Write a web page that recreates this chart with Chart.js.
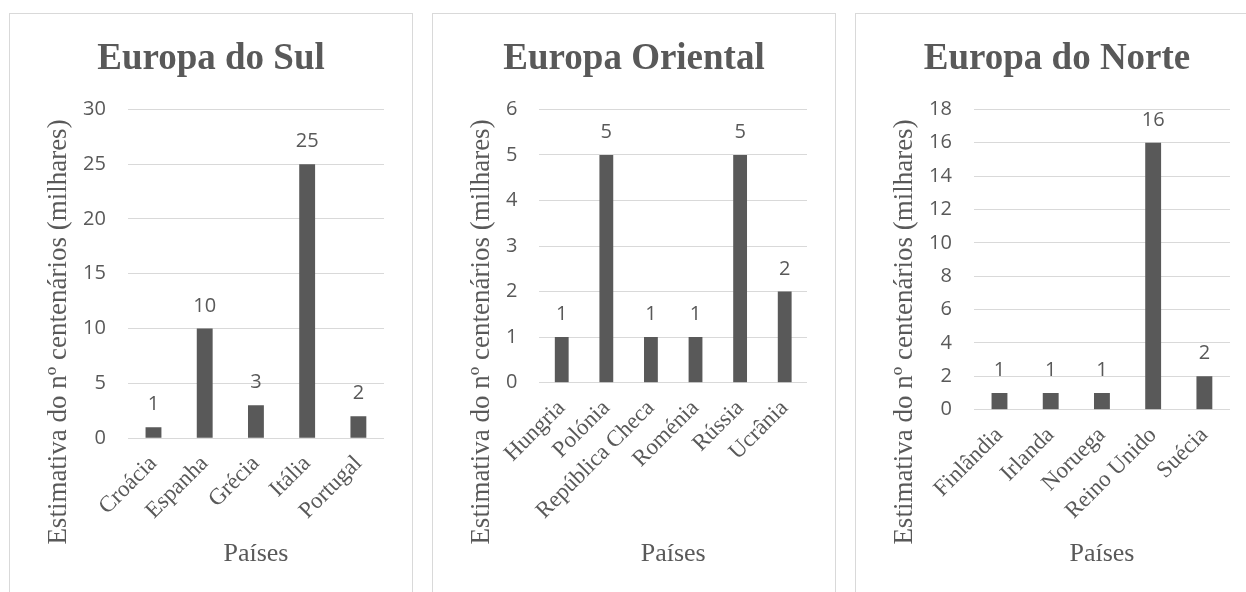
<!DOCTYPE html>
<html>
<head>
<meta charset="utf-8">
<script src="https://cdn.jsdelivr.net/npm/chart.js@4.4.0/dist/chart.umd.min.js"></script>
<style>
  body { margin: 0; background: #fff; width: 1246px; height: 592px; overflow: hidden; position: relative; }
  .panel { position: absolute; top: 13px; width: 404px; height: 600px; border: 1px solid #d9d9d9; box-sizing: border-box; }
  .panel canvas { position: absolute; left: -1px; top: -1px; }
</style>
</head>
<body>
<div class="panel" style="left:9px"><canvas id="chartSul" width="404" height="579"></canvas></div>
<div class="panel" style="left:432px"><canvas id="chartOriental" width="404" height="579"></canvas></div>
<div class="panel" style="left:855px"><canvas id="chartNorte" width="404" height="579"></canvas></div>
<script>
// --- data ---
const sulPaises = ['Croácia', 'Espanha', 'Grécia', 'Itália', 'Portugal'];
const sulValores = [1, 10, 3, 25, 2];
const sulEscala = { max: 30, passo: 5 };

const orientalPaises = ['Hungria', 'Polónia', 'República Checa', 'Roménia', 'Rússia', 'Ucrânia'];
const orientalValores = [1, 5, 1, 1, 5, 2];
const orientalEscala = { max: 6, passo: 1 };

const nortePaises = ['Finlândia', 'Irlanda', 'Noruega', 'Reino Unido', 'Suécia'];
const norteValores = [1, 1, 1, 16, 2];
const norteEscala = { max: 18, passo: 2 };

const tituloY = 'Estimativa do nº centenários (milhares)';
const tituloX = 'Países';

const GREY = '#595959';
const GRID = '#d9d9d9';
const SERIF = '"Liberation Serif", "Times New Roman", serif';

Chart.defaults.font.family = '"Open Sans", sans-serif';
Chart.defaults.color = GREY;

// value labels above each bar
const valueLabels = {
  id: 'valueLabels',
  afterDatasetsDraw(chart) {
    const ctx = chart.ctx;
    const meta = chart.getDatasetMeta(0);
    const values = chart.data.datasets[0].data;
    ctx.save();
    ctx.font = '20px "Open Sans"';
    ctx.fillStyle = GREY;
    ctx.textAlign = 'center';
    ctx.textBaseline = 'alphabetic';
    meta.data.forEach((bar, i) => ctx.fillText(values[i], bar.x, bar.y - 17));
    ctx.restore();
  }
};

// vertical axis title, centred on the whole plot block like Excel does
const yTitle = {
  id: 'yTitle',
  afterDraw(chart, args, opts) {
    const ctx = chart.ctx;
    ctx.save();
    ctx.translate(opts.x, opts.y);
    ctx.rotate(-Math.PI / 2);
    ctx.font = '27px ' + SERIF;
    ctx.fillStyle = GREY;
    ctx.textAlign = 'center';
    ctx.textBaseline = 'middle';
    ctx.fillText(opts.text, 0, 0);
    ctx.restore();
  }
};

function makeChart(id, title, labels, values, escala) {
  return new Chart(document.getElementById(id), {
    type: 'bar',
    data: {
      labels: labels,
      datasets: [{
        data: values,
        backgroundColor: GREY,
        barPercentage: 1,
        categoryPercentage: 0.31
      }]
    },
    plugins: [valueLabels, yTitle],
    options: {
      responsive: false,
      animation: false,
      layout: { padding: { left: 29, right: 29, bottom: 22, top: 0 } },
      plugins: {
        legend: { display: false },
        tooltip: { enabled: false },
        title: {
          display: true,
          text: title,
          color: GREY,
          font: { family: SERIF, size: 37, weight: 'bold' },
          padding: { top: 24, bottom: 28 }
        },
        yTitle: { text: tituloY, x: 50, y: 319 }
      },
      scales: {
        x: {
          grid: { display: false },
          border: { display: false },
          // let rotated labels run under the y axis, as in the original
          afterFit(scale) { scale.paddingLeft = 0; scale.paddingRight = 0; },
          ticks: {
            color: GREY,
            font: { family: SERIF, size: 23 },
            minRotation: 45,
            maxRotation: 45,
            autoSkip: false,
            padding: 4
          },
          title: {
            display: true,
            text: tituloX,
            color: GREY,
            font: { family: SERIF, size: 26 },
            padding: { top: 10, bottom: 0 }
          }
        },
        y: {
          min: 0,
          max: escala.max,
          border: { display: false },
          grid: { color: GRID, lineWidth: 1, drawTicks: false },
          // room on the left for the rotated axis title
          afterFit(scale) { scale.width += 23; },
          ticks: {
            stepSize: escala.passo,
            color: GREY,
            font: { size: 20 },
            padding: 22
          }
        }
      }
    }
  });
}

makeChart('chartSul', 'Europa do Sul', sulPaises, sulValores, sulEscala);
makeChart('chartOriental', 'Europa Oriental', orientalPaises, orientalValores, orientalEscala);
makeChart('chartNorte', 'Europa do Norte', nortePaises, norteValores, norteEscala);
</script>
</body>
</html>
